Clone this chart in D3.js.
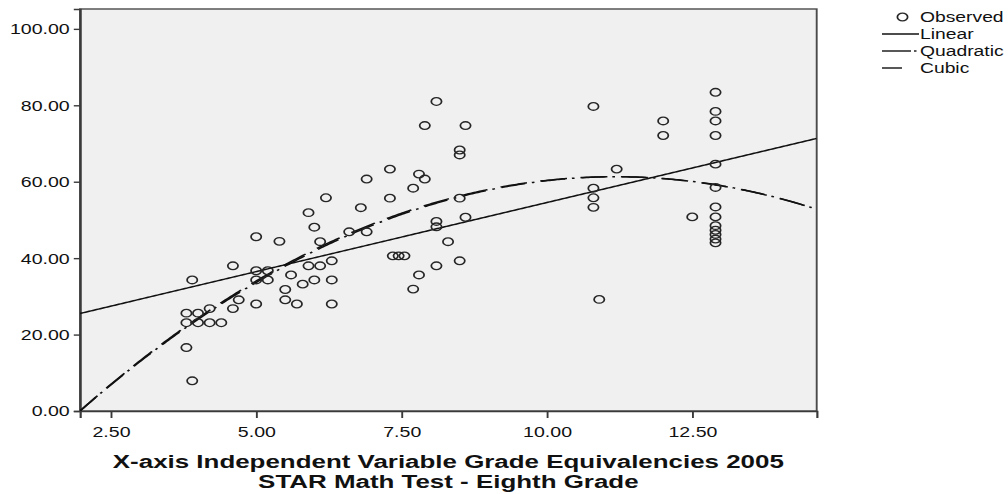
<!DOCTYPE html>
<html>
<head>
<meta charset="utf-8">
<script src="https://cdn.jsdelivr.net/npm/d3@7"></script>
<style>
  html, body { margin: 0; padding: 0; background: #ffffff; }
  svg { display: block; }
  text { font-family: "Liberation Sans", Arial, sans-serif; fill: #111111; }
</style>
</head>
<body>
<svg id="chart"></svg>
<script>
// Observed scores: grade equivalency (x) against outcome (y)
const obsX = [
  3.9, 4.6, 5.0, 5.2, 5.0, 5.2, 5.6, 5.9, 6.1, 6.3, 6.1, 5.4, 5.0,
  5.8, 6.0, 6.3, 5.5, 5.5, 5.7, 5.0, 6.3, 4.6, 4.7, 4.2,
  3.8, 4.0, 3.8, 4.0, 4.2, 4.4, 3.8, 3.9,
  5.9, 6.0, 6.2, 6.6, 6.9, 6.9, 6.8, 7.3, 7.3, 7.35, 7.45, 7.55,
  7.8, 7.9, 7.7, 8.1, 8.1, 8.5, 8.5, 8.5, 8.6, 8.3, 8.5, 8.1, 7.8, 7.7,
  8.1, 7.9, 8.6,
  10.8, 12.0, 12.0,
  12.9, 12.9, 12.9, 12.9, 12.9, 12.9, 12.9, 12.9, 12.9, 12.9, 12.9, 12.9, 12.9,
  11.2, 10.8, 10.8, 10.8, 12.5, 10.9
];
const obsY = [
  34.3, 38.0, 36.7, 36.7, 34.3, 34.3, 35.6, 38.0, 38.0, 39.3, 44.3, 44.4, 45.6,
  33.2, 34.3, 34.3, 31.8, 29.1, 28.0, 28.0, 28.0, 26.8, 29.1, 26.8,
  25.6, 25.6, 23.1, 23.1, 23.1, 23.1, 16.6, 7.9,
  51.9, 48.1, 55.8, 46.9, 46.9, 60.7, 53.2, 63.3, 55.7, 40.6, 40.6, 40.6,
  62.0, 60.7, 58.3, 49.6, 48.2, 68.3, 67.0, 55.7, 50.7, 44.3, 39.3, 38.0, 35.6, 31.9,
  81.0, 74.7, 74.7,
  79.7, 75.9, 72.1,
  83.4, 78.4, 75.9, 72.1, 64.6, 58.5, 53.4, 50.8, 48.5, 47.3, 46.2, 45.0, 44.0,
  63.3, 58.3, 55.8, 53.3, 50.8, 29.2
];

// Fitted model coefficients (b0, b1, b2, b3)
const linearCoef = [18.4, 3.615];
const quadraticCoef = [-28.95, 16.117, -0.7195];
const cubicCoef = [-29.60, 16.547, -0.7751, 0.002];

const xTicks = [2.5, 5.0, 7.5, 10.0, 12.5];
const yTicks = [0, 20, 40, 60, 80, 100];
const xDomain = [1.97, 14.64];
const yDomain = [0, 105.2];

const legendItems = ["Observed", "Linear", "Quadratic", "Cubic"];
const titleLines = [
  "X-axis Independent Variable Grade Equivalencies 2005",
  "STAR Math Test - Eighth Grade"
];

// The chart is laid out in a narrower space and stretched to the page width
const S = 1.35;
const pageW = 1008, pageH = 494;
const W = pageW / S;

const svg = d3.select("#chart")
  .attr("width", pageW)
  .attr("height", pageH)
  .attr("viewBox", `0 0 ${W} ${pageH}`)
  .attr("preserveAspectRatio", "none");

const plotLeft = 80 / S, plotRight = 816.7 / S, plotTop = 9, plotBottom = 411;

const x = d3.scaleLinear().domain(xDomain).range([plotLeft, plotRight]);
const y = d3.scaleLinear().domain(yDomain).range([plotBottom, plotTop]);

// Plot frame
svg.append("rect")
  .attr("x", plotLeft).attr("y", plotTop)
  .attr("width", plotRight - plotLeft).attr("height", plotBottom - plotTop)
  .attr("fill", "#f0f0f0")
  .attr("stroke", "#4a4a4a")
  .attr("stroke-width", 1.4);

svg.append("clipPath").attr("id", "plotClip")
  .append("rect")
  .attr("x", plotLeft).attr("y", plotTop)
  .attr("width", plotRight - plotLeft).attr("height", plotBottom - plotTop);

// Axes
const yAxis = svg.append("g")
  .attr("transform", `translate(${plotLeft},0)`)
  .call(d3.axisLeft(y).tickValues(yTicks).tickFormat(d3.format(".2f")).tickSize(4.6).tickPadding(3));
const xAxis = svg.append("g")
  .attr("transform", `translate(0,${plotBottom})`)
  .call(d3.axisBottom(x).tickValues(xTicks).tickFormat(d3.format(".2f")).tickSize(7).tickPadding(9));

[xAxis, yAxis].forEach(g => {
  g.select(".domain").attr("stroke", "#3a3a3a").attr("stroke-width", 1.6);
  g.selectAll(".tick line").attr("stroke", "#3a3a3a").attr("stroke-width", 1.4);
  g.selectAll(".tick text")
    .attr("font-family", "'Liberation Sans', Arial, sans-serif")
    .attr("font-size", 14.5)
    .attr("fill", "#111");
});
yAxis.selectAll(".tick text").attr("dy", "0.34em");

// Fitted curves
const poly = c => v => c.reduce((s, b, i) => s + b * Math.pow(v, i), 0);
const samples = d3.range(0, 401).map(i => xDomain[0] + (xDomain[1] - xDomain[0]) * i / 400);
const lineGen = f => d3.line().x(v => x(v)).y(v => y(f(v)))(samples);

const curves = svg.append("g").attr("clip-path", "url(#plotClip)");
curves.append("path")
  .attr("d", lineGen(poly(linearCoef)))
  .attr("fill", "none").attr("stroke", "#111").attr("stroke-width", 1.5);
curves.append("path")
  .attr("d", lineGen(poly(quadraticCoef)))
  .attr("fill", "none").attr("stroke", "#111").attr("stroke-width", 1.5)
  .attr("stroke-dasharray", "18 5 2 5");
curves.append("path")
  .attr("d", lineGen(poly(cubicCoef)))
  .attr("fill", "none").attr("stroke", "#111").attr("stroke-width", 1.5)
  .attr("stroke-dasharray", "20 10");

// Observed points
svg.append("g")
  .selectAll("circle")
  .data(obsX.map((v, i) => [v, obsY[i]]))
  .join("circle")
  .attr("cx", d => x(d[0]))
  .attr("cy", d => y(d[1]))
  .attr("r", 3.8)
  .attr("fill", "none")
  .attr("stroke", "#262626")
  .attr("stroke-width", 1.3);

// Legend
const lg = svg.append("g");
const lgX0 = 882 / S, lgTextX = 920 / S;
const rows = [17, 34, 51, 68];
lg.append("circle")
  .attr("cx", 902.5 / S).attr("cy", rows[0])
  .attr("r", 3.8).attr("fill", "none").attr("stroke", "#262626").attr("stroke-width", 1.3);
lg.append("line")
  .attr("x1", lgX0).attr("x2", 919 / S).attr("y1", rows[1]).attr("y2", rows[1])
  .attr("stroke", "#111").attr("stroke-width", 1.4);
lg.append("line")
  .attr("x1", lgX0).attr("x2", 911 / S).attr("y1", rows[2]).attr("y2", rows[2])
  .attr("stroke", "#111").attr("stroke-width", 1.4);
lg.append("line")
  .attr("x1", 914 / S).attr("x2", 916.5 / S).attr("y1", rows[2]).attr("y2", rows[2])
  .attr("stroke", "#111").attr("stroke-width", 1.4);
lg.append("line")
  .attr("x1", lgX0).attr("x2", 902 / S).attr("y1", rows[3]).attr("y2", rows[3])
  .attr("stroke", "#111").attr("stroke-width", 1.4);
lg.selectAll("text")
  .data(legendItems)
  .join("text")
  .attr("x", lgTextX)
  .attr("y", (d, i) => rows[i])
  .attr("dy", "0.36em")
  .attr("font-size", 14.3)
  .text(d => d);

// Axis title
svg.append("g")
  .selectAll("text")
  .data(titleLines)
  .join("text")
  .attr("x", (plotLeft + plotRight) / 2)
  .attr("y", (d, i) => 468 + i * 20)
  .attr("text-anchor", "middle")
  .attr("font-size", 19.2)
  .attr("font-weight", "bold")
  .text(d => d);
</script>
</body>
</html>
